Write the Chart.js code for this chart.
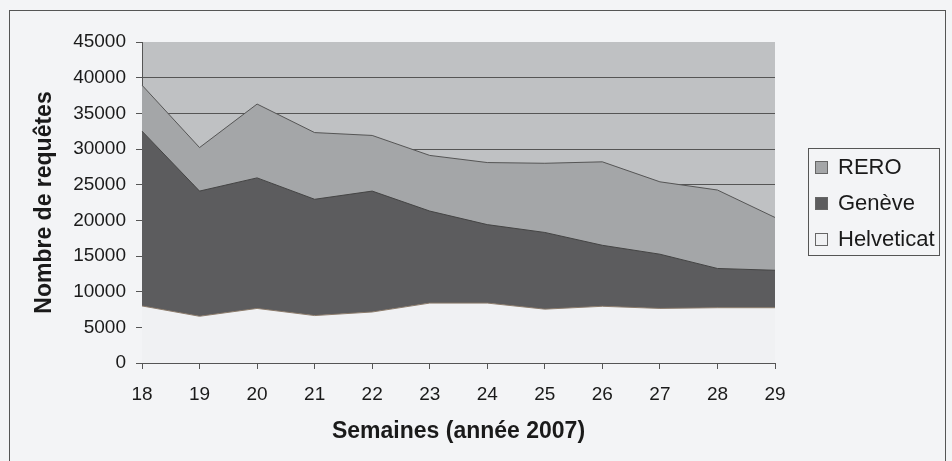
<!DOCTYPE html>
<html>
<head>
<meta charset="utf-8">
<script src="https://cdn.jsdelivr.net/npm/chart.js@4"></script>
<style>
  html, body { margin: 0; padding: 0; background: #f3f4f6; }
  #wrap { position: relative; width: 952px; height: 461px; overflow: hidden; }
  #cadre { position: absolute; left: 9px; top: 10px; width: 935px; height: 500px;
           border: 1px solid #555; border-bottom: none; }
  canvas { position: absolute; left: 0; top: 0; }
</style>
</head>
<body>
<div id="wrap">
  <div id="cadre"></div>
  <canvas id="graficoArea" width="952" height="461"></canvas>
</div>
<script>
// semaines 18 a 29 (annee 2007)
var semaines = ['18', '19', '20', '21', '22', '23', '24', '25', '26', '27', '28', '29'];
var helveticat = [8000, 6550, 7650, 6650, 7150, 8400, 8400, 7550, 7950, 7650, 7750, 7750];
var geneve = [24500, 17550, 18300, 16300, 16950, 12900, 11000, 10750, 8550, 7600, 5500, 5250];
var rero = [6450, 6100, 10350, 9350, 7800, 7800, 8700, 9700, 11700, 10150, 11000, 7400];
var ticksY = [0, 5000, 10000, 15000, 20000, 25000, 30000, 35000, 40000, 45000];

var police = '"Liberation Sans", Arial, sans-serif';

// fond gris de la zone de tracé
var fondZone = {
    id: 'fondZone',
    beforeDraw: function (chart) {
        var a = chart.chartArea;
        var ctx = chart.ctx;
        ctx.save();
        ctx.fillStyle = '#bfc1c3';
        ctx.fillRect(a.left, a.top, a.right - a.left, a.bottom - a.top);
        ctx.restore();
    }
};

// legende encadree a droite
var legendeCadre = {
    id: 'legendeCadre',
    afterDraw: function (chart) {
        var ctx = chart.ctx;
        var ds = chart.data.datasets.slice().reverse();
        ctx.save();
        ctx.strokeStyle = '#555';
        ctx.lineWidth = 1;
        ctx.strokeRect(808.5, 148.5, 131, 107);
        ctx.font = '22px ' + police;
        ctx.textBaseline = 'middle';
        ds.forEach(function (d, i) {
            var y = 167 + i * 36;
            ctx.fillStyle = d.backgroundColor;
            ctx.fillRect(815, y - 6, 13, 13);
            ctx.strokeStyle = '#666';
            ctx.strokeRect(815.5, y - 5.5, 12, 12);
            ctx.fillStyle = '#1a1a1a';
            ctx.fillText(d.label, 838, y + 1);
        });
        ctx.restore();
    }
};

new Chart(document.getElementById('graficoArea'), {
    type: 'line',
    data: {
        labels: semaines,
        datasets: [{
            label: 'Helveticat',
            data: helveticat,
            backgroundColor: '#f0f1f3',
            borderColor: '#8a7a6a',
            borderWidth: 1,
            fill: 'origin'
        }, {
            label: 'Genève',
            data: geneve,
            backgroundColor: '#5c5c5e',
            borderColor: '#444',
            borderWidth: 1,
            fill: '-1'
        }, {
            label: 'RERO',
            data: rero,
            backgroundColor: '#a4a6a8',
            borderColor: '#555',
            borderWidth: 1,
            fill: '-1'
        }]
    },
    options: {
        responsive: false,
        animation: false,
        layout: { padding: { top: 42, right: 177, bottom: 0, left: 0 } },
        elements: { point: { radius: 0 }, line: { tension: 0 } },
        plugins: {
            legend: { display: false },
            tooltip: { enabled: false }
        },
        scales: {
            x: {
                offset: false,
                afterFit: function (s) { s.height = 98; },
                grid: { drawOnChartArea: false, tickLength: 6, tickColor: '#555' },
                border: { color: '#555' },
                ticks: { color: '#1a1a1a', padding: 14, font: { family: police, size: 19 } },
                title: {
                    display: true,
                    text: 'Semaines (année 2007)',
                    color: '#1a1a1a',
                    padding: { top: 0, bottom: 16 },
                    font: { family: police, size: 23, weight: 'bold' }
                }
            },
            y: {
                stacked: true,
                min: 0,
                max: 45000,
                afterFit: function (s) { s.width = 142; },
                afterBuildTicks: function (s) {
                    s.ticks = ticksY.map(function (v) { return { value: v }; });
                },
                grid: {
                    tickLength: 6,
                    tickColor: '#555',
                    color: function (c) { return c.tick && c.tick.value === 45000 ? 'rgba(0,0,0,0)' : '#555'; }
                },
                border: { color: '#555' },
                ticks: {
                    color: '#1a1a1a',
                    padding: 10,
                    font: { family: police, size: 19 },
                    callback: function (v) { return String(v); }
                },
                title: {
                    display: true,
                    text: 'Nombre de requêtes',
                    color: '#1a1a1a',
                    padding: { top: 31, bottom: 0 },
                    font: { family: police, size: 23, weight: 'bold' }
                }
            }
        }
    },
    plugins: [fondZone, legendeCadre]
});
</script>
</body>
</html>
